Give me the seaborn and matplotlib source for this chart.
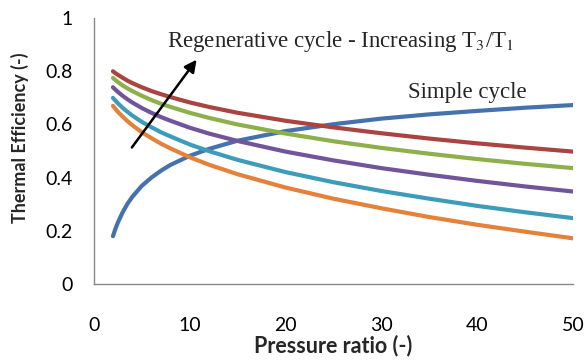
import numpy as np
import pandas as pd
import matplotlib
matplotlib.use("Agg")
import matplotlib.pyplot as plt
import seaborn as sns

pressure_ratio = [2, 2.25, 2.5, 3, 3.5, 4, 5, 6, 7, 8, 10, 12, 15, 20, 25, 30, 35, 40, 45, 50]
simple_cycle = [0.180, 0.207, 0.230, 0.269, 0.301, 0.327, 0.369, 0.400, 0.426, 0.448, 0.482,
                0.508, 0.539, 0.575, 0.601, 0.622, 0.638, 0.651, 0.663, 0.673]
regen_1 = [0.670, 0.659, 0.648, 0.630, 0.613, 0.598, 0.571, 0.549, 0.528, 0.510, 0.477,
           0.449, 0.413, 0.363, 0.321, 0.285, 0.252, 0.223, 0.197, 0.172]
regen_2 = [0.700, 0.690, 0.680, 0.663, 0.648, 0.634, 0.610, 0.590, 0.571, 0.555, 0.525,
           0.500, 0.467, 0.421, 0.383, 0.350, 0.321, 0.294, 0.270, 0.248]
regen_3 = [0.740, 0.731, 0.723, 0.708, 0.695, 0.683, 0.662, 0.644, 0.628, 0.614, 0.588,
           0.566, 0.538, 0.498, 0.465, 0.436, 0.411, 0.388, 0.367, 0.348]
regen_4 = [0.775, 0.767, 0.760, 0.747, 0.736, 0.726, 0.708, 0.692, 0.678, 0.666, 0.644,
           0.625, 0.600, 0.566, 0.537, 0.512, 0.490, 0.470, 0.452, 0.436]
regen_5 = [0.800, 0.793, 0.787, 0.776, 0.765, 0.756, 0.740, 0.726, 0.714, 0.703, 0.683,
           0.666, 0.644, 0.614, 0.589, 0.567, 0.547, 0.529, 0.513, 0.498]

series_names = ["Simple", "R1", "R2", "R3", "R4", "R5"]
series_vals = [simple_cycle, regen_1, regen_2, regen_3, regen_4, regen_5]
colors = ["#4571AD", "#E4813A", "#3D9DB8", "#71549A", "#8DB04A", "#AA4440"]

rows = []
for name, vals in zip(series_names, series_vals):
    for x, y in zip(pressure_ratio, vals):
        rows.append({"r": x, "eta": y, "series": name})
df = pd.DataFrame(rows)

sns.set_theme(style="white")
plt.rcParams["font.family"] = ["Lato", "DejaVu Sans"]

fig = plt.figure(figsize=(5.86, 3.61), dpi=100)
ax = fig.add_axes([0.160, 0.213, 0.818, 0.737])

sns.lineplot(data=df, x="r", y="eta", hue="series", hue_order=series_names,
             palette=dict(zip(series_names, colors)), linewidth=3.0,
             legend=False, ax=ax, solid_capstyle="round")

ax.set_xlim(0, 50)
ax.set_ylim(0, 1)
ax.set_xticks([0, 10, 20, 30, 40, 50])
ax.set_yticks([0, 0.2, 0.4, 0.6, 0.8, 1.0])
ax.set_yticklabels(["0", "0.2", "0.4", "0.6", "0.8", "1"])
ax.tick_params(axis="both", direction="out", length=5, width=1, color="#888888",
               labelsize=14, colors="#888888", labelcolor="black")
ax.tick_params(axis="x", pad=19)
ax.tick_params(axis="y", pad=10)
for s in ["top", "right"]:
    ax.spines[s].set_visible(False)
for s in ["left", "bottom"]:
    ax.spines[s].set_color("#888888")
    ax.spines[s].set_linewidth(1)

ax.set_xlabel("Pressure ratio (-)", fontsize=15.5, fontweight="bold", labelpad=0)
ax.set_ylabel("Thermal Efficiency (-)", fontsize=13, fontweight="bold")
ax.yaxis.set_label_coords(-0.136, 0.55)

ax.annotate("", xy=(10.9, 0.852), xytext=(3.8, 0.505),
            arrowprops=dict(arrowstyle="-|>", color="black", lw=1.8, mutation_scale=18))
ax.text(7.6, 0.891, "Regenerative cycle - Increasing T$_3$/T$_1$",
        family="Liberation Serif", fontsize=16.5, va="baseline", ha="left",
        math_fontfamily="stix")
ax.text(32.8, 0.699, "Simple cycle", family="Liberation Serif", fontsize=16.5,
        va="baseline", ha="left")

fig.savefig("out.png", dpi=100)
